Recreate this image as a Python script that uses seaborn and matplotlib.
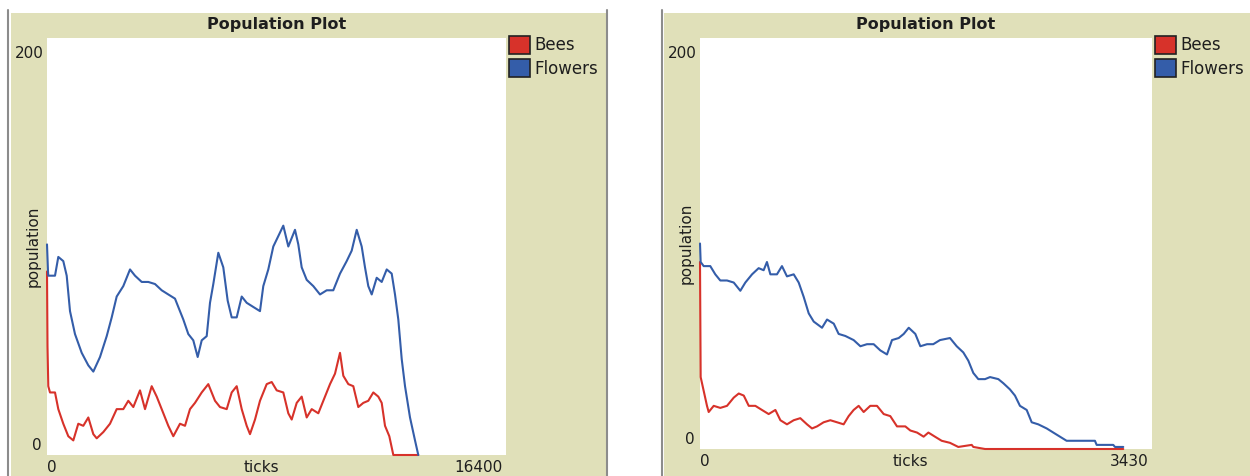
import numpy as np
import pandas as pd
import matplotlib.pyplot as plt
import seaborn as sns
from matplotlib.patches import Patch, Rectangle
from matplotlib.lines import Line2D

# ---------------------------------------------------------------------------
# Data read off the two NetLogo "Population Plot" panels
# ---------------------------------------------------------------------------
SERIES = ["Bees", "Flowers"]
COLORS = {"Bees": "#D7322A", "Flowers": "#345DA9"}

# left run (x axis 0..16400)
left_flowers_t = [0, 36, 46, 286, 404, 582, 704, 822, 1000, 1240, 1476, 1655, 1894, 2133,
                  2312, 2490, 2726, 2966, 3144, 3384, 3619, 3859, 4098, 4334, 4573, 4691,
                  4870, 5049, 5227, 5384, 5528, 5706, 5824, 5942, 6121, 6299, 6456, 6599,
                  6778, 6957, 7135, 7371, 7610, 7728, 7907, 8086, 8265, 8443, 8622, 8861,
                  8979, 9100, 9279, 9515, 9754, 9994, 10229, 10469, 10708, 10887, 11066,
                  11244, 11362, 11480, 11602, 11780, 11959, 12138, 12316, 12434, 12552,
                  12674, 12792, 12970, 13149, 13266]
left_flowers_v = [101, 88, 86, 86, 95, 93, 86, 69, 58, 49, 43, 40, 47, 57,
                  66, 76, 81, 89, 86, 83, 83, 82, 79, 77, 75, 71,
                  65, 58, 55, 47, 55, 57, 73, 82, 97, 90, 74, 66,
                  66, 76, 73, 71, 69, 81, 89, 100, 105, 110, 100, 108,
                  101, 90, 84, 81, 77, 79, 79, 87, 93, 98, 108,
                  100, 90, 81, 77, 85, 83, 89, 87, 77, 65,
                  46, 33, 18, 7, 0]

left_bees_t = [0, 18, 46, 107, 286, 404, 582, 761, 940, 1118, 1297, 1476, 1655, 1776,
               2012, 2251, 2490, 2726, 2905, 3084, 3323, 3502, 3741, 3920, 4098, 4334,
               4513, 4752, 4931, 5109, 5288, 5528, 5763, 6003, 6181, 6421, 6599, 6778,
               6957, 7135, 7253, 7432, 7610, 7850, 8029, 8207, 8443, 8622, 8743, 8922,
               9100, 9279, 9458, 9694, 9873, 10112, 10290, 10469, 10587, 10766, 10944,
               11123, 11302, 11480, 11659, 11837, 11959, 12077, 12231, 12374, 13266]
left_bees_v = [88, 52, 33, 30, 30, 22, 15, 9, 7, 15, 14, 18, 10, 8,
               11, 15, 22, 22, 26, 23, 31, 22, 33, 28, 22, 14,
               9, 15, 14, 22, 25, 30, 34, 26, 23, 22, 30, 33,
               22, 14, 10, 17, 26, 34, 35, 31, 30, 20, 17, 25,
               28, 18, 22, 20, 26, 34, 39, 49, 38, 34, 33,
               23, 25, 26, 30, 28, 25, 14, 9, 0, 0]

# right run (x axis 0..3430)
right_flowers_t = [0, 5, 28, 78, 116, 154, 205, 256, 306, 344, 395, 445, 483, 508, 534,
                   584, 622, 660, 711, 749, 787, 825, 863, 926, 964, 1015, 1052, 1103,
                   1166, 1217, 1267, 1318, 1368, 1419, 1457, 1508, 1546, 1584, 1634,
                   1672, 1723, 1770, 1821, 1897, 1948, 1998, 2036, 2074, 2112, 2163,
                   2201, 2264, 2302, 2352, 2390, 2428, 2479, 2517, 2567, 2631, 2681,
                   2782, 2997, 3010, 3136, 3149, 3212]
right_flowers_v = [100, 91, 89, 89, 85, 82, 82, 81, 77, 81, 85, 88, 87, 91, 85,
                   85, 89, 84, 85, 81, 74, 66, 62, 59, 63, 61, 56, 55,
                   53, 50, 51, 51, 48, 46, 53, 54, 56, 59, 56,
                   50, 51, 51, 53, 54, 50, 47, 43, 37, 34, 34,
                   35, 34, 32, 29, 26, 21, 19, 13, 12, 10, 8,
                   4, 4, 2, 2, 1, 1]

right_bees_t = [0, 5, 53, 66, 104, 154, 205, 256, 294, 332, 370, 420, 470, 521, 572,
                610, 660, 711, 761, 812, 850, 888, 938, 989, 1040, 1090, 1128, 1166,
                1204, 1242, 1292, 1343, 1394, 1444, 1495, 1558, 1596, 1647, 1697,
                1733, 1783, 1834, 1897, 1960, 2062, 2074, 2163, 3212]
right_bees_v = [91, 35, 21, 18, 21, 20, 21, 25, 27, 26, 21, 21, 19, 17, 19,
                14, 12, 14, 15, 12, 10, 11, 13, 14, 13, 12, 16, 19,
                21, 18, 21, 21, 17, 16, 11, 11, 9, 8, 6,
                8, 6, 4, 3, 1, 2, 1, 0, 0]

X_MAX = [16400, 3430]
Y_MAX = 200

OLIVE = "#E0E0B9"
TEXT = "#1E1E1E"


def _frame(t_bees, v_bees, t_fl, v_fl):
    a = pd.DataFrame({"ticks": t_bees, "population": v_bees, "pen": "Bees"})
    b = pd.DataFrame({"ticks": t_fl, "population": v_fl, "pen": "Flowers"})
    return pd.concat([a, b], ignore_index=True)


panels = [
    _frame(left_bees_t, left_bees_v, left_flowers_t, left_flowers_v),
    _frame(right_bees_t, right_bees_v, right_flowers_t, right_flowers_v),
]

sns.set_style("white")
plt.rcParams["font.family"] = ["DejaVu Sans"]

fig = plt.figure(figsize=(12.5, 4.76), dpi=100)
fig.patch.set_facecolor("white")

# olive NetLogo widget backgrounds + grey borders (pixel geometry / 1250x476)
W, H = 1250.0, 476.0
for x0, x1 in [(11, 606), (664, 1250)]:
    fig.patches.append(Rectangle((x0 / W, 0), (x1 - x0) / W, (H - 13) / H,
                                 transform=fig.transFigure, facecolor=OLIVE,
                                 edgecolor="none", zorder=-5))
for xb in [7.5, 606.5, 661.5]:
    fig.lines.append(Line2D([xb / W, xb / W], [0, (H - 10) / H], transform=fig.transFigure,
                            color="#8C8C8C", linewidth=1.5, zorder=-4))

# plot areas: (left px, right px, top px, bottom px)
boxes = [(47, 506, 38, 455), (700, 1152, 38, 449)]
tick_label_x = [0.468, 0.465]

for i, (df, (l, r, t, b)) in enumerate(zip(panels, boxes)):
    ax = fig.add_axes([l / W, (H - b) / H, (r - l) / W, (b - t) / H])
    ax.set_zorder(2)
    ax.set_facecolor("white")
    sns.lineplot(data=df, x="ticks", y="population", hue="pen", hue_order=SERIES,
                 palette=COLORS, estimator=None, sort=True,
                 linewidth=1.5, legend=False, ax=ax)
    for ln in ax.lines:
        ln.set_clip_on(False)
    ax.set_xlim(0, X_MAX[i])
    ax.set_ylim(0, Y_MAX)
    ax.set_xticks([])
    ax.set_yticks([])
    ax.set_xlabel("")
    ax.set_ylabel("")
    for s in ax.spines.values():
        s.set_visible(False)

    # NetLogo style labels
    ax.text(0.5, 1.0 + 13 / (b - t), "Population Plot", transform=ax.transAxes,
            ha="center", va="center", fontsize=11.5, fontweight="bold", color=TEXT)
    ax.text(-3 / (r - l), 1 - 16 / (b - t), str(Y_MAX), transform=ax.transAxes,
            ha="right", va="center", fontsize=11, color=TEXT)
    ax.text(-5 / (r - l), 10 / (b - t), "0", transform=ax.transAxes,
            ha="right", va="center", fontsize=11, color=TEXT)
    ax.text(-14 / (r - l), 0.5, "population", transform=ax.transAxes, rotation=90,
            ha="center", va="center", fontsize=11, color=TEXT)
    ax.text(0.0, -13 / (b - t), "0", transform=ax.transAxes,
            ha="left", va="center", fontsize=11, color=TEXT)
    ax.text(1.0 - 3 / (r - l), -13 / (b - t), str(X_MAX[i]), transform=ax.transAxes,
            ha="right", va="center", fontsize=11, color=TEXT)
    ax.text(tick_label_x[i], -13 / (b - t), "ticks", transform=ax.transAxes,
            ha="center", va="center", fontsize=11, color=TEXT)

    handles = [Patch(facecolor=COLORS[s], edgecolor="#222222", linewidth=1.2, label=s)
               for s in SERIES]
    ax.legend(handles=handles, loc="upper left", bbox_to_anchor=(1.0 + 3 / (r - l), 1.005),
              frameon=False, fontsize=12, handlelength=1.25, handleheight=1.25,
              handletextpad=0.25, labelspacing=0.3, borderaxespad=0, borderpad=0,
              labelcolor=TEXT)

fig.savefig("out.png", dpi=100, facecolor=fig.get_facecolor())
